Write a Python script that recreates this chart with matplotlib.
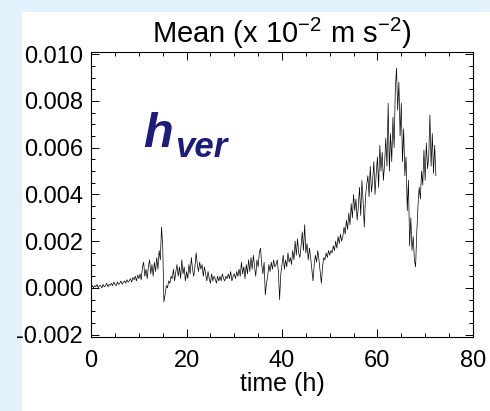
import matplotlib
matplotlib.use("Agg")
import matplotlib.pyplot as plt
from matplotlib.patches import Rectangle
from matplotlib.ticker import MultipleLocator
import numpy as np

plt.rcParams['font.family'] = ['Liberation Sans', 'DejaVu Sans']
plt.rcParams['mathtext.fontset'] = 'custom'
plt.rcParams['mathtext.rm'] = 'Liberation Sans'

# time axis, every quarter hour (h)
hours = np.arange(0, 72.5, 0.25)

# mean vertical acceleration (units of 1e-3)
mean_milli = [
    0.0, 0.1, 0.0, 0.1,      # 0
    0.05, 0.15, 0.0, 0.1,    # 1
    0.1, 0.0, 0.15, 0.05,    # 2
    0.1, 0.2, 0.05, 0.15,    # 3
    0.1, 0.2, 0.1, 0.25,     # 4
    0.15, 0.1, 0.25, 0.15,   # 5
    0.2, 0.3, 0.15, 0.25,    # 6
    0.3, 0.2, 0.35, 0.25,    # 7
    0.3, 0.4, 0.25, 0.45,    # 8
    0.35, 0.5, 0.3, 0.55,    # 9
    0.4, 0.6, 0.35, 0.9,     # 10
    1.1, 0.5, 0.8, 0.4,      # 11
    0.9, 1.2, 0.6, 1.0,      # 12
    0.5, 1.1, 0.7, 1.3,      # 13
    0.8, 1.6, 1.2, 2.6,      # 14
    1.8, -0.6, -0.3, 0.1,    # 15
    0.0, 0.3, 0.2, 0.5,      # 16
    0.4, 0.8, 0.3, 0.7,      # 17
    1.0, 0.5, 0.9, 0.4,      # 18
    1.2, 0.6, 0.9, 0.3,      # 19
    0.7, 0.4, 1.0, 0.6,      # 20
    1.3, 0.8, 0.5, 0.9,      # 21
    1.5, 1.0, 0.7, 1.1,      # 22
    0.8, 1.0, 0.5, 0.9,      # 23
    0.6, 0.3, 0.7, 0.4,      # 24
    0.2, 0.6, 0.3, 0.5,      # 25
    0.4, 0.2, 0.5, 0.3,      # 26
    0.5, 0.3, 0.6, 0.4,      # 27
    0.3, 0.5, 0.4, 0.6,      # 28
    0.4, 0.7, 0.3, 0.5,      # 29
    0.6, 0.4, 0.7, 0.5,      # 30
    0.8, 0.5, 1.1, 0.6,      # 31
    0.9, 0.4, 1.0, 0.6,      # 32
    1.2, 0.7, 1.3, 0.8,      # 33
    1.4, 0.9, 0.5, 1.2,      # 34
    0.9, 1.5, 1.7, 1.0,      # 35
    0.6, 1.1, -0.3, 0.2,     # 36
    0.5, 1.0, 0.7, 1.1,      # 37
    0.8, 1.2, 0.9, 1.0,      # 38
    1.2, 0.7, -0.5, 0.6,     # 39
    1.0, 1.4, 0.8, 1.2,      # 40
    0.9, 1.5, 1.1, 1.3,      # 41
    1.0, 1.6, 1.2, 2.0,      # 42
    1.4, 2.1, 1.5, 1.3,      # 43
    1.8, 2.4, 1.6, 2.7,      # 44
    1.5, 1.9, 1.2, 1.7,      # 45
    1.3, 0.8, 0.3, 1.0,      # 46
    1.4, 1.1, 1.6, 1.2,      # 47
    0.7, 0.2, 0.9, 1.3,      # 48
    1.2, 1.5, 1.3, 1.6,      # 49
    1.4, 1.6, 1.5, 1.8,      # 50
    1.6, 2.0, 1.7, 2.2,      # 51
    1.9, 2.3, 2.0, 2.2,      # 52
    2.6, 2.3, 2.9, 2.5,      # 53
    3.2, 2.7, 3.6, 3.0,      # 54
    4.0, 3.3, 3.8, 2.9,      # 55
    3.5, 4.3, 3.1, 4.6,      # 56
    3.7, 2.6, 3.9, 4.4,      # 57
    4.8, 3.9, 5.2, 4.1,      # 58
    4.6, 5.4, 4.0, 4.9,      # 59
    5.6, 4.3, 6.1, 5.0,      # 60
    5.8, 4.6, 5.3, 6.4,      # 61
    5.2, 7.9, 5.0, 6.6,      # 62
    5.4, 7.3, 6.0, 8.5,      # 63
    9.4, 7.6, 8.8, 6.5,      # 64
    7.9, 5.4, 6.8, 4.8,      # 65
    5.6, 3.3, 4.6, 1.8,      # 66
    3.0, 1.6, 2.2, 1.2,      # 67
    0.9, 2.4, 3.5, 4.3,      # 68
    3.8, 5.0, 4.4, 5.9,      # 69
    4.6, 6.2, 5.1, 5.6,      # 70
    7.4, 5.2, 6.6, 4.9,      # 71
    6.1, 4.8,                # 72
]
mean_vals = np.array(mean_milli) * 1e-3

x_ticks = [0, 20, 40, 60, 80]
y_ticks = [-0.002, 0.000, 0.002, 0.004, 0.006, 0.008, 0.010]

fig = plt.figure(figsize=(4.9, 4.11), dpi=100)
fig.patch.set_facecolor('#e2f2fc')
# white slide panel behind everything
fig.patches.append(Rectangle((22 / 490, 0), 1, 1 - 12 / 411, transform=fig.transFigure,
                             facecolor='white', edgecolor='none', zorder=-10))

ax = fig.add_axes([0.186, 0.180, 0.779, 0.694])
ax.plot(hours, mean_vals, color='black', lw=0.5)

ax.set_xlim(0, 80)
ax.set_ylim(-0.0021, 0.0101)
ax.set_xticks(x_ticks)
ax.set_yticks(y_ticks)
ax.set_yticklabels([f'{v:.3f}' for v in y_ticks])
ax.xaxis.set_minor_locator(MultipleLocator(5))
ax.yaxis.set_minor_locator(MultipleLocator(0.0005))
ax.tick_params(which='both', direction='in', top=True, right=True, labelsize=17, width=0.7)
ax.tick_params(axis='y', which='major', length=6, pad=6)
ax.tick_params(axis='x', which='major', length=6, pad=9)
ax.tick_params(which='minor', length=3)
for sp in ax.spines.values():
    sp.set_linewidth(0.8)

ax.set_xlabel('time (h)', fontsize=18, labelpad=0)
ax.set_title(r'Mean (x 10$^{\mathregular{-2}}$ m s$^{\mathregular{-2}}$)', fontsize=21, pad=6)

fig.text(143 / 490, 1 - 147 / 411, 'h', fontsize=35, fontweight='bold', style='italic',
         color='#1c1c7a', va='baseline')
fig.text(175 / 490, 1 - 157 / 411, 'ver', fontsize=25, fontweight='bold', style='italic',
         color='#1c1c7a', va='baseline')

fig.savefig('out.png', dpi=100, facecolor=fig.get_facecolor())
